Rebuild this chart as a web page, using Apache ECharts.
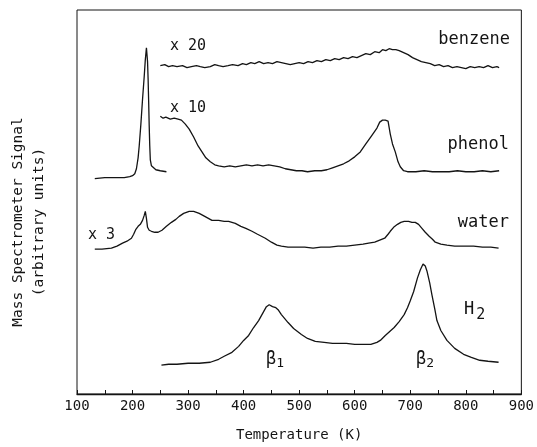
<!DOCTYPE html>
<html>
<head>
<meta charset="utf-8">
<script src="https://cdn.jsdelivr.net/npm/echarts@6/dist/echarts.min.js"></script>
<style>
  html, body { margin: 0; padding: 0; background: #fff; }
  #chart { width: 537px; height: 447px; }
</style>
</head>
<body>
<div id="chart"></div>
<script>
// Temperature-programmed desorption traces (signal in arbitrary units, offset per species)
const xTicks = [100, 200, 300, 400, 500, 600, 700, 800, 900];

// benzene, scaled x20
const benzeneTemp = [250, 258, 265, 272, 280, 290, 298, 306, 315, 322, 330, 340, 348, 355, 363, 372, 380, 390, 398, 405, 413, 420, 428, 436, 444, 452, 460, 468, 476, 484, 492, 500, 508, 516, 524, 532, 540, 548, 556, 564, 572, 580, 588, 596, 604, 612, 620, 628, 636, 644, 650, 656, 662, 668, 674, 680, 688, 696, 704, 712, 720, 728, 736, 744, 752, 760, 768, 776, 784, 792, 800, 808, 816, 824, 832, 840, 848, 856, 860];
const benzeneSignal = [331, 332, 330, 331, 330, 331, 329, 330, 331, 330, 329, 330, 332, 331, 330, 331, 332, 331, 333, 332, 334, 333, 335, 333, 334, 333, 335, 334, 333, 332, 333, 334, 333, 335, 334, 336, 335, 337, 336, 338, 337, 339, 338, 340, 339, 341, 343, 342, 345, 344, 347, 346, 348, 347, 347, 346, 344, 342, 339, 337, 335, 334, 333, 331, 332, 330, 331, 329, 330, 329, 328, 330, 329, 330, 329, 331, 329, 330, 329];

// phenol, scaled x10
const phenolTemp = [250, 255, 260, 268, 275, 282, 288, 295, 302, 310, 318, 325, 332, 340, 348, 355, 365, 375, 385, 395, 405, 415, 425, 435, 445, 455, 465, 475, 485, 495, 505, 515, 528, 540, 550, 560, 570, 580, 590, 600, 610, 620, 630, 640, 645, 650, 655, 660, 664, 668, 673, 678, 682, 688, 695, 710, 725, 740, 755, 770, 785, 800, 815, 830, 845, 860];
const phenolSignal = [280, 278, 279, 277, 278, 277, 276, 272, 267, 259, 250, 244, 238, 234, 231, 230, 229, 230, 229, 230, 231, 230, 231, 230, 231, 230, 229, 227, 226, 225, 225, 224, 225, 225, 226, 228, 230, 232, 235, 239, 244, 252, 260, 268, 274, 276, 276, 275, 262, 252, 244, 234, 229, 225, 224, 224, 225, 224, 224, 224, 225, 224, 224, 225, 224, 225];

// phenol, unscaled low-temperature peak
const phenolLowTemp = [132, 150, 170, 185, 195, 200, 204, 207, 210, 212, 215, 218, 221, 223, 225, 227, 228, 229, 230, 231, 232, 234, 236, 242, 250, 261];
const phenolLowSignal = [217, 218, 218, 218, 219, 220, 222, 227, 238, 250, 272, 297, 320, 337, 349, 335, 318, 295, 270, 250, 236, 230, 228, 226, 225, 224];

// water, scaled x3
const waterTemp = [132, 145, 162, 172, 182, 190, 198, 202, 206, 210, 214, 218, 221, 223, 225, 227, 230, 234, 240, 246, 253, 261, 270, 278, 284, 292, 302, 310, 320, 330, 343, 355, 365, 373, 385, 395, 404, 415, 425, 439, 450, 460, 468, 480, 493, 510, 525, 539, 555, 570, 585, 600, 615, 625, 636, 645, 654, 660, 664, 670, 677, 683, 689, 697, 703, 709, 715, 721, 727, 734, 740, 745, 755, 766, 780, 795, 814, 830, 845, 859];
const waterSignal = [146, 146, 147, 149, 152, 154, 157, 161, 166, 169, 171, 175, 180, 184, 177, 168, 165, 164, 163, 163, 165, 169, 173, 176, 179, 182, 184, 184, 182, 179, 175, 175, 174, 174, 172, 169, 167, 164, 161, 157, 153, 150, 149, 148, 148, 148, 147, 148, 148, 149, 149, 150, 151, 152, 153, 155, 157, 161, 164, 168, 171, 173, 174, 174, 173, 173, 171, 167, 163, 159, 156, 153, 151, 150, 149, 149, 149, 148, 148, 147];

// hydrogen
const h2Temp = [252, 265, 280, 300, 320, 340, 355, 365, 379, 391, 400, 409, 418, 427, 435, 441, 446, 452, 458, 462, 468, 480, 490, 504, 515, 529, 545, 560, 570, 585, 600, 615, 629, 640, 646, 655, 663, 671, 680, 689, 695, 700, 706, 713, 718, 723, 727, 730, 735, 739, 744, 748, 755, 766, 780, 796, 810, 825, 840, 859];
const h2Signal = [29, 30, 30, 31, 31, 32, 35, 38, 42, 48, 54, 59, 67, 74, 82, 88, 90, 88, 87, 85, 80, 72, 66, 60, 56, 53, 52, 51, 51, 51, 50, 50, 50, 52, 54, 59, 63, 67, 73, 80, 87, 94, 103, 117, 125, 131, 129, 124, 112, 100, 86, 74, 64, 54, 46, 40, 37, 34, 33, 32];

const zip = (xs, ys) => xs.map((x, i) => [x, ys[i]]);

const MONO = '"DejaVu Sans Mono", "Liberation Mono", monospace';
const INK = '#141414';

const trace = (name, xs, ys) => ({
  name, type: 'line', data: zip(xs, ys), showSymbol: false, symbol: 'none',
  smooth: false, animation: false,
  lineStyle: { color: INK, width: 1.3 }
});

const txt = (text, x, y, opts = {}) => ({
  type: 'text', x, y,
  style: Object.assign({ text, font: '15px ' + MONO, fill: INK, textVerticalAlign: 'middle' }, opts)
});

const chart = echarts.init(document.getElementById('chart'), null, { renderer: 'canvas' });
chart.setOption({
  backgroundColor: '#fff',
  animation: false,
  grid: { left: 77, right: 12, top: 10, bottom: 50, show: true, borderColor: INK, borderWidth: 1, backgroundColor: 'transparent' },
  xAxis: {
    type: 'value', min: xTicks[0], max: xTicks[xTicks.length - 1], interval: 100,
    name: 'Temperature (K)', nameLocation: 'middle', nameGap: 34,
    nameTextStyle: { fontFamily: MONO, fontSize: 14, color: INK },
    axisLine: { show: true, lineStyle: { color: INK, width: 1.3 } },
    axisTick: { show: true, inside: true, length: 4, lineStyle: { color: INK } },
    minorTick: { show: true, splitNumber: 2, length: 4, lineStyle: { color: INK } },
    splitLine: { show: false },
    axisLabel: { fontFamily: MONO, fontSize: 14, color: INK, margin: 5 }
  },
  yAxis: {
    type: 'value', min: 0, max: 387,
    axisLine: { show: false }, axisTick: { show: false }, axisLabel: { show: false }, splitLine: { show: false }
  },
  series: [
    trace('benzene', benzeneTemp, benzeneSignal),
    trace('phenol', phenolTemp, phenolSignal),
    trace('phenol (low T)', phenolLowTemp, phenolLowSignal),
    trace('water', waterTemp, waterSignal),
    trace('H2', h2Temp, h2Signal)
  ],
  graphic: [
    txt('x 20', 170, 46),
    txt('x 10', 170, 108),
    txt('x 3', 88, 235),
    txt('benzene', 510, 40, { textAlign: 'right', font: '17px ' + MONO }),
    txt('phenol', 509, 145, { textAlign: 'right', font: '17px ' + MONO }),
    txt('water', 509, 223, { textAlign: 'right', font: '17px ' + MONO }),
    {
      type: 'text', x: 464, y: 310,
      style: { text: '{a|H}{b|2}', fill: INK, textVerticalAlign: 'middle',
        rich: { a: { font: '17px ' + MONO, fill: INK }, b: { font: '15px ' + MONO, fill: INK, padding: [10, 0, 0, 2] } } }
    },
    {
      type: 'text', x: 266, y: 360,
      style: { text: '{a|β}{b|1}', fill: INK, textVerticalAlign: 'middle',
        rich: { a: { font: '17px ' + MONO, fill: INK }, b: { font: '13px ' + MONO, fill: INK, padding: [8, 0, 0, 0] } } }
    },
    {
      type: 'text', x: 416, y: 360,
      style: { text: '{a|β}{b|2}', fill: INK, textVerticalAlign: 'middle',
        rich: { a: { font: '17px ' + MONO, fill: INK }, b: { font: '13px ' + MONO, fill: INK, padding: [8, 0, 0, 0] } } }
    },
    {
      type: 'text', x: 18, y: 222, rotation: Math.PI / 2,
      style: { text: 'Mass Spectrometer Signal', font: '14.5px ' + MONO, fill: INK, textAlign: 'center', textVerticalAlign: 'middle' }
    },
    {
      type: 'text', x: 39, y: 222, rotation: Math.PI / 2,
      style: { text: '(arbitrary units)', font: '14.5px ' + MONO, fill: INK, textAlign: 'center', textVerticalAlign: 'middle' }
    }
  ]
});
</script>
</body>
</html>
